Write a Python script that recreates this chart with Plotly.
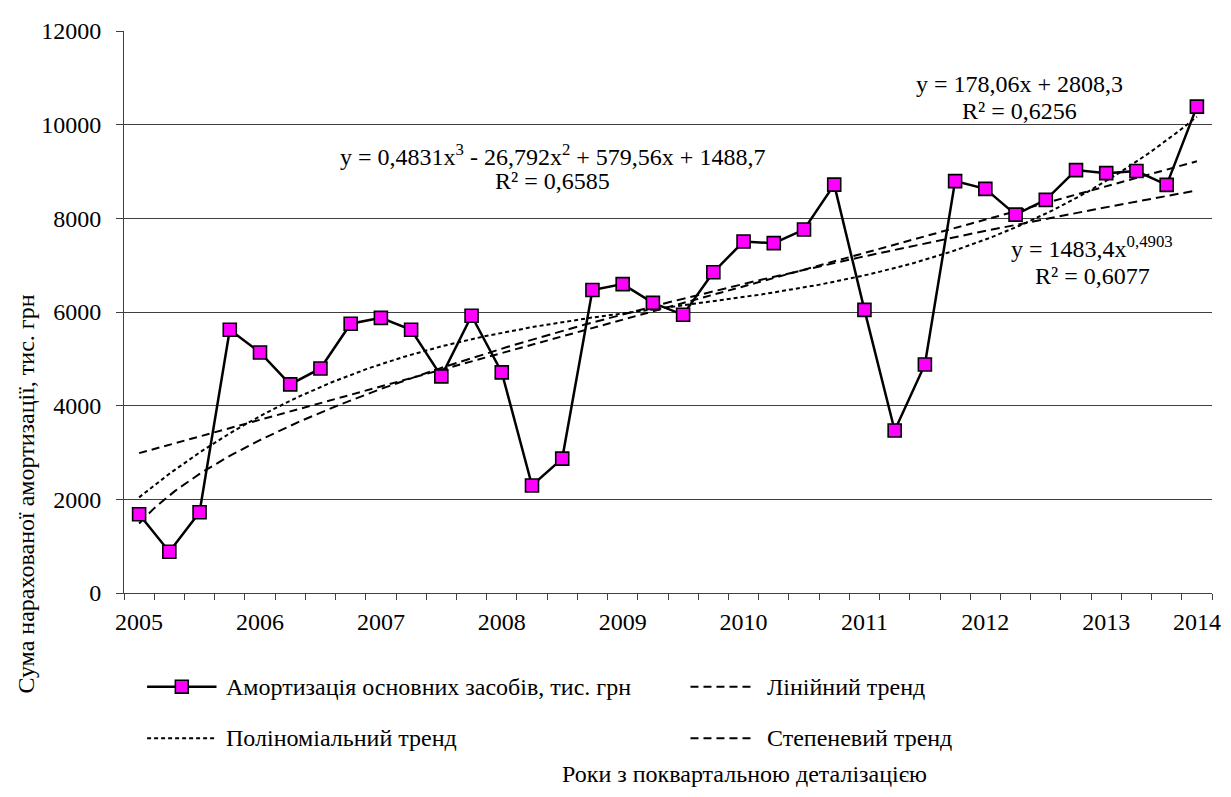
import numpy as np
import plotly.graph_objects as go

# quarterly values, 2005 Q1 .. 2013 Q4
quarter_idx = list(range(1, 37))
depreciation = [1680, 880, 1725, 5620, 5135, 4455, 4795, 5750, 5875, 5620, 4625, 5920,
                4710, 2295, 2870, 6470, 6595, 6195, 5940, 6850, 7505, 7470, 7760, 8720,
                6045, 3470, 4880, 8795, 8630, 8080, 8395, 9030, 8965, 9010, 8715, 10385]

year_tick_idx = [1, 5, 9, 13, 17, 21, 25, 29, 33, 36]
year_tick_text = ["2005", "2006", "2007", "2008", "2009", "2010", "2011", "2012", "2013", "2014"]

# trend equations as printed on the chart
lin_coef = [178.06, 2808.3]
poly_coef = [0.4831, -26.792, 579.56, 1488.7]
pow_coef = [1483.4, 0.4903]

FONT = "Liberation Serif"
FS = 24
W, H = 1231, 797
OFF = 8                                        # page body margin
FW, FH = W - OFF, H - 2 * OFF
PL, PR, PT, PB = 123.7, 1221.0, 26.7, 593.5   # plot area in page pixels


def px(x):
    return (x - PL) / (PR - PL)


def py(y):
    return (PB - y) / (PB - PT)


xs = np.linspace(1, 36, 300)
lin_y = np.polyval(lin_coef, xs)
poly_y = np.polyval(poly_coef, xs)
pow_y = pow_coef[0] * xs ** pow_coef[1]

fig = go.Figure()
fig.add_trace(go.Scatter(x=xs, y=lin_y, mode="lines", line=dict(color="black", width=2, dash="8px,5px"),
                         name="Лінійний тренд", hoverinfo="skip"))
fig.add_trace(go.Scatter(x=xs, y=poly_y, mode="lines", line=dict(color="black", width=2, dash="4px,3px"),
                         name="Поліноміальний тренд", hoverinfo="skip"))
fig.add_trace(go.Scatter(x=xs, y=pow_y, mode="lines", line=dict(color="black", width=2, dash="9px,5px"),
                         name="Степеневий тренд", hoverinfo="skip"))
fig.add_trace(go.Scatter(x=quarter_idx, y=depreciation, mode="lines+markers",
                         line=dict(color="black", width=2.5),
                         marker=dict(symbol="square", size=13, color="#FF00FF",
                                     line=dict(color="black", width=1.6)),
                         name="Амортизація основних засобів, тис. грн"))

fig.update_layout(width=FW, height=FH, showlegend=False,
                  margin=dict(l=PL - OFF, r=FW - (PR - OFF), t=PT - OFF, b=FH - (PB - OFF), pad=0),
                  plot_bgcolor="white", paper_bgcolor="white",
                  font=dict(family=FONT, size=FS, color="black"))
fig.update_xaxes(range=[0.5, 36.5], showgrid=False, zeroline=False,
                 showline=True, linecolor="#404040", linewidth=1,
                 tickmode="array", tickvals=year_tick_idx, ticktext=year_tick_text,
                 tickfont=dict(family=FONT, size=FS, color="black"),
                 ticks="", ticklabelstandoff=7, ticklabeloverflow="allow",
                 minor=dict(tickmode="linear", tick0=0.5, dtick=1, ticks="outside",
                            ticklen=6, tickcolor="#404040", showgrid=False))
fig.update_yaxes(range=[0, 12000], dtick=2000, tickformat="d",
                 showgrid=True, gridcolor="#404040", gridwidth=1,
                 zeroline=False, showline=True, linecolor="#404040", linewidth=1,
                 tickfont=dict(family=FONT, size=FS, color="black"),
                 ticks="outside", ticklen=7, tickcolor="#404040", ticklabelstandoff=10)

ann = dict(xref="paper", yref="paper", showarrow=False, xanchor="center", yanchor="middle",
           font=dict(family=FONT, size=FS, color="black"))
eq_lines = [
    (556, 152, "y = 0,4831x<sup>3</sup> - 26,792x<sup>2</sup> + 579,56x + 1488,7"),
    (556, 178, "R² = 0,6585"),
    (1027, 80, "y = 178,06x + 2808,3"),
    (1027, 107, "R² = 0,6256"),
    (1100, 245, "y = 1483,4x<sup>0,4903</sup>"),
    (1100, 274, "R² = 0,6077"),
]
for ex, ey, txt in eq_lines:
    fig.add_annotation(x=px(ex), y=py(ey), text=txt, **ann)

# axis titles
fig.add_annotation(x=px(25), y=py(494), text="Сума нарахованої амортизації, тис. грн", textangle=-90, **ann)
fig.add_annotation(x=px(749), y=py(776), text="Роки з поквартальною деталізацією", **ann)

# legend drawn by hand (two columns, two rows)
rows = [688, 740]
legend_items = [
    (147, 217, rows[0], "solid", "Амортизація основних засобів, тис. грн", 2.5),
    (695, 757, rows[0], "8px,5px", "Лінійний тренд", 2),
    (147, 217, rows[1], "4px,3px", "Поліноміальний тренд", 2),
    (695, 757, rows[1], "8px,5px", "Степеневий тренд", 2),
]
for x0, x1, yy, dash, label, lw in legend_items:
    fig.add_shape(type="line", xref="paper", yref="paper", x0=px(x0), x1=px(x1), y0=py(yy), y1=py(yy),
                  line=dict(color="black", width=lw, dash=dash))
    fig.add_annotation(x=px(x1 + 8 if x0 < 400 else x1 + 13), y=py(yy), text=label,
                       **{**ann, "xanchor": "left"})
fig.add_shape(type="rect", xref="paper", yref="paper", x0=px(175.5), x1=px(188.5),
              y0=py(694.5), y1=py(681.5), fillcolor="#FF00FF", line=dict(color="black", width=1.6))

fig.write_html("out.html")
